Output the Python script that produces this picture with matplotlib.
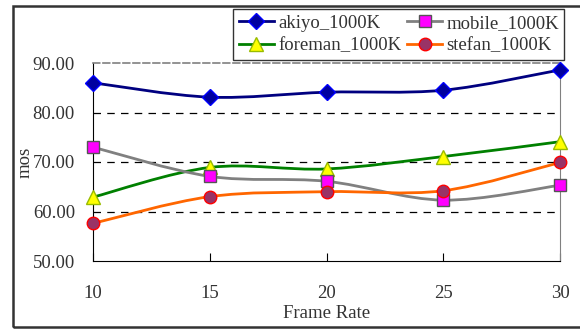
import numpy as np
import matplotlib.pyplot as plt
from matplotlib.path import Path
from matplotlib.patches import PathPatch, Rectangle
from matplotlib.lines import Line2D

plt.rcParams['font.family'] = ['Liberation Serif', 'DejaVu Serif']

frame_rate = [10, 15, 20, 25, 30]
akiyo = [86.0, 83.1, 84.1, 84.5, 88.6]
mobile = [73.0, 67.1, 66.1, 62.3, 65.3]
foreman = [62.9, 68.9, 68.6, 71.1, 74.1]
stefan = [57.6, 63.0, 64.0, 64.2, 69.9]

# legend fills column-wise: akiyo/foreman on the left, mobile/stefan on the right
series = [
    ('akiyo_1000K', akiyo, '#000080', 'D', '#0000a0', '#0000ff', 8),
    ('foreman_1000K', foreman, '#008000', '^', '#ffff00', '#99bb00', 10),
    ('mobile_1000K', mobile, '#808080', 's', '#ff00ff', '#555555', 8),
    ('stefan_1000K', stefan, '#ff6600', 'o', '#993366', '#ff0000', 9),
]
text_color = '#333333'


def smooth_path(xs, ys, t=1/6.):
    # Catmull-Rom style bezier through the points, like a spreadsheet "smoothed line"
    pts = np.column_stack([xs, ys]).astype(float)
    verts = [pts[0]]
    codes = [Path.MOVETO]
    n = len(pts)
    for i in range(n - 1):
        p0 = pts[i - 1] if i > 0 else pts[i]
        p1 = pts[i]
        p2 = pts[i + 1]
        p3 = pts[i + 2] if i + 2 < n else pts[i + 1]
        c1 = p1 + (p2 - p0) * t
        c2 = p2 - (p3 - p1) * t
        verts += [c1, c2, p2]
        codes += [Path.CURVE4] * 3
    return Path(verts, codes)


fig = plt.figure(figsize=(5.8, 3.31), dpi=100)
# outer frame around the whole chart (right edge runs off the image)
fig.patches.append(Rectangle((13 / 580, 1 - 327 / 331), 600 / 580, 321 / 331,
                             transform=fig.transFigure, fill=False,
                             edgecolor='#333333', linewidth=1.8))

ax = fig.add_axes([93 / 580, 1 - 261 / 331, 467 / 580, 198 / 331])
ax.set_xlim(10, 30)
ax.set_ylim(50, 90)

for yv in [60, 70, 80]:
    ax.axhline(yv, color='black', linestyle=(0, (6, 5)), linewidth=0.9, zorder=1)

handles = []
for name, vals, lc, mk, fc, ec, ms in series:
    ax.add_patch(PathPatch(smooth_path(frame_rate, vals), fill=False,
                           edgecolor=lc, linewidth=2, zorder=2, clip_on=False))
    ax.plot(frame_rate, vals, linestyle='none', marker=mk, markersize=ms,
            markerfacecolor=fc, markeredgecolor=ec, markeredgewidth=1,
            zorder=3, clip_on=False)
    handles.append(Line2D([], [], color=lc, linewidth=2, marker=mk,
                          markersize=ms, markerfacecolor=fc,
                          markeredgecolor=ec, label=name))

ax.spines['left'].set_color('black')
ax.spines['bottom'].set_color('black')
ax.spines['right'].set_color('#808080')
ax.spines['top'].set_color('#808080')
ax.spines['top'].set_linestyle((0, (4, 2)))
ax.spines['top'].set_linewidth(1.2)

ax.set_xticks(frame_rate)
ax.set_yticks([50, 60, 70, 80, 90])
ax.set_yticklabels(['%.2f' % v for v in [50, 60, 70, 80, 90]])
ax.tick_params(axis='x', direction='in', length=6, pad=17, labelsize=13.5,
               labelcolor=text_color)
ax.tick_params(axis='y', length=0, pad=13, labelsize=13.5,
               labelcolor=text_color)

ax.set_xlabel('Frame Rate', fontsize=13.5, color=text_color)
ax.set_ylabel('mos', fontsize=13.5, color=text_color)
ax.xaxis.set_label_coords(0.5, -0.22)
ax.yaxis.set_label_coords(-0.128, 0.5)

leg = fig.legend(handles=handles, ncol=2, loc='upper left',
                 bbox_to_anchor=(233 / 580, 1 - 9 / 331), fontsize=13.5,
                 frameon=True, fancybox=False, edgecolor='black',
                 borderpad=0.3, labelspacing=0.3, handlelength=1.9,
                 handletextpad=0.2, columnspacing=0.3, borderaxespad=0)
leg.get_frame().set_linewidth(1)
for txt in leg.get_texts():
    txt.set_color(text_color)

fig.savefig('out.png', dpi=100)
